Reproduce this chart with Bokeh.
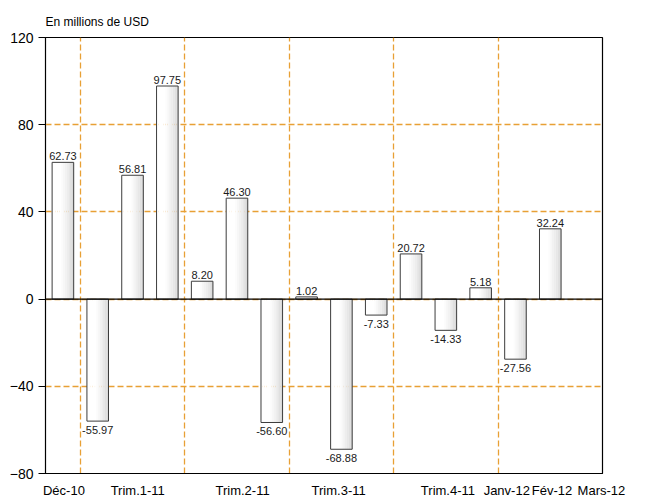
import math
from bokeh.plotting import figure
from bokeh.models import FixedTicker, Span, Range1d
from bokeh.core.properties import value
from bokeh.embed import file_html
from bokeh.resources import INLINE

# ---- data ----
categories = ["Déc-10", "Janv-11", "Fév-11", "Mars-11", "Avr-11", "Mai-11", "Juin-11",
              "Juil-11", "Août-11", "Sept-11", "Oct-11", "Nov-11", "Déc-11",
              "Janv-12", "Fév-12", "Mars-12"]
values = [62.73, -55.97, 56.81, 97.75, 8.20, 46.30, -56.60, 1.02, -68.88, -7.33,
          20.72, -14.33, 5.18, -27.56, 32.24, float("nan")]
group_sizes = [1, 3, 3, 3, 3, 3]          # Déc-10 | T1 | T2 | T3 | T4 | 2012
axis_labels = ["Déc-10", "Trim.1-11", "Trim.2-11", "Trim.3-11", "Trim.4-11",
               "Janv-12", "Fév-12", "Mars-12"]
axis_label_idx = [0, 2, 5, 8, 11, 13, 14, 15]
y_ticks = [-80, -40, 0, 40, 80, 120]
unit_title = "En millions de USD"

# ---- styling ----
FONT = "Liberation Sans"
ORANGE = "#E8A035"
BAR_W = 0.62
label_shift = [0.03, 0.15, 0.16, -0.08, 0.06, -0.25, 0.05, 0.47]   # fraction of a slot

n = len(categories)
p = figure(frame_width=557, frame_height=436, output_backend="svg", toolbar_location=None,
           x_range=Range1d(0, n), y_range=Range1d(y_ticks[0], y_ticks[-1]),
           min_border_left=45, min_border_right=42, min_border_top=37, min_border_bottom=26,
           title=unit_title)
p.background_fill_color = "white"
p.border_fill_color = "white"
p.outline_line_color = "black"
p.outline_line_width = 1.2

# unit title
p.title.align = "left"
p.title.text_font = FONT
p.title.text_font_size = "12px"
p.title.text_font_style = "normal"
p.title.text_color = "black"
p.title.standoff = 17

# x axis: category labels
tick_pos = [round(i + 0.5 + s, 2) for i, s in zip(axis_label_idx, label_shift)]
p.xaxis.ticker = FixedTicker(ticks=tick_pos)
p.xaxis.major_label_overrides = {t: lab for t, lab in zip(tick_pos, axis_labels)}
p.xaxis.major_tick_line_color = None
p.xaxis.minor_tick_line_color = None
p.xaxis.major_tick_out = 0
p.xaxis.major_tick_in = 0
p.xaxis.axis_line_color = "black"
p.xaxis.major_label_standoff = 9
p.xaxis.major_label_text_font = FONT
p.xaxis.major_label_text_font_size = "13px"
p.xaxis.major_label_text_color = "black"

# y axis
p.yaxis.ticker = FixedTicker(ticks=y_ticks)
p.yaxis.minor_tick_line_color = None
p.yaxis.major_tick_out = 7
p.yaxis.major_tick_in = 0
p.yaxis.major_tick_line_color = "black"
p.yaxis.axis_line_color = "black"
p.yaxis.major_label_standoff = 5
p.yaxis.major_label_text_font = FONT
p.yaxis.major_label_text_font_size = "14px"
p.yaxis.major_label_text_color = "black"

# grids
bounds = []
acc = 0
for g in group_sizes[:-1]:
    acc += g
    bounds.append(acc)
p.xgrid.ticker = FixedTicker(ticks=bounds)
p.xgrid.grid_line_color = ORANGE
p.xgrid.grid_line_dash = "6 3"
p.xgrid.grid_line_width = 1.3
p.ygrid.ticker = FixedTicker(ticks=[t for t in y_ticks if t not in (y_ticks[0], y_ticks[-1])])
p.ygrid.grid_line_color = ORANGE
p.ygrid.grid_line_dash = "6 3"
p.ygrid.grid_line_width = 1.3

# bars with a gradient (white -> light grey)
valid = [i for i, v in enumerate(values) if not math.isnan(v)]
xs = [i + 0.5 for i in valid]
tops = [values[i] for i in valid]
NS = 12
sw = BAR_W / NS
for k in range(NS):
    t = (k + 0.5) / NS
    f = max(0.0, (t - 0.35) / 0.65) ** 1.4
    g = int(round(255 - 42 * f))
    col = "#%02x%02x%02x" % (g, g, g)
    off = -BAR_W / 2 + (k + 0.5) * sw
    p.vbar(x=[x + off for x in xs], width=sw * 1.05, top=tops, bottom=0,
           fill_color=col, line_color=None)
p.vbar(x=xs, width=BAR_W, top=tops, bottom=0, fill_alpha=0,
       line_color="#3c3c3c", line_width=1)

# zero line
p.add_layout(Span(location=0, dimension="width", line_color="black", line_width=1.2))

# value labels
pos_x = [x for x, v in zip(xs, tops) if v >= 0]
pos_v = [v for v in tops if v >= 0]
neg_x = [x for x, v in zip(xs, tops) if v < 0]
neg_v = [v for v in tops if v < 0]
p.text(x=pos_x, y=pos_v, text=["%.2f" % v for v in pos_v], text_align="center",
       text_baseline="alphabetic", y_offset=-6, text_font_size="11px",
       text_color="#1a1a1a", text_font=value(FONT))
p.text(x=neg_x, y=neg_v, text=["%.2f" % v for v in neg_v], text_align="center",
       text_baseline="top", y_offset=5, text_font_size="11px",
       text_color="#1a1a1a", text_font=value(FONT))

open("out.html", "w").write(file_html(p, INLINE))
